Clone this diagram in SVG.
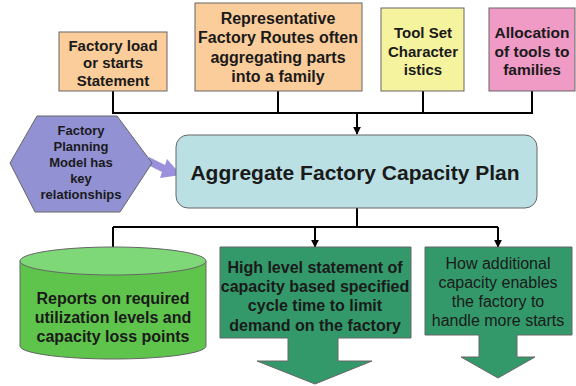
<svg xmlns="http://www.w3.org/2000/svg" width="576" height="386" viewBox="0 0 576 386">
  <defs>
    <marker id="arr" viewBox="0 0 10 10" refX="9" refY="5" markerWidth="4" markerHeight="4" orient="auto" markerUnits="strokeWidth">
      <path d="M0,0 L10,5 L0,10 z" fill="#000"/>
    </marker>
  </defs>
  <style>
    .box { stroke: #666; stroke-width: 1; }
    .t { font-family: "Liberation Sans", Arial, sans-serif; fill: #1a1a1a; text-anchor: middle; dominant-baseline: central; }
    .b { font-weight: bold; }
    .wire { fill: none; stroke: #000; stroke-width: 2; }
  </style>
  <rect width="576" height="386" fill="#fff"/>

  <!-- connectors -->
  <g id="connectors">
    <path class="wire" d="M113,91 V113 H532 V91 M278,91 V113 M423,91 V113"/>
    <path class="wire" d="M357,113 V134" marker-end="url(#arr)"/>
    <path class="wire" d="M357,208 V227 M113,227 H498"/>
    <path class="wire" d="M113,227 V273" marker-end="url(#arr)"/>
    <path class="wire" d="M315,227 V247" marker-end="url(#arr)"/>
    <path class="wire" d="M498,227 V247" marker-end="url(#arr)"/>
    <!-- fat purple arrow from hexagon into the plan -->
    <path d="M149,157 L165,165 L167,159 L181,175 L160,178 L162,172 L146,164 z" fill="#9b90dc"/>
  </g>

  <g id="factory-load">
    <rect class="box" x="59" y="32" width="108" height="59" fill="#fbcd9a"/>
    <text class="t b" font-size="15"><tspan x="113" y="45">Factory load</tspan><tspan x="113" y="62">or starts</tspan><tspan x="113" y="80">Statement</tspan></text>
  </g>

  <g id="routes">
    <rect class="box" x="195" y="3" width="167" height="88" fill="#fbcd9a"/>
    <text class="t b" font-size="16"><tspan x="278" y="18">Representative</tspan><tspan x="278" y="37">Factory Routes often</tspan><tspan x="278" y="57">aggregating parts</tspan><tspan x="278" y="76">into a family</tspan></text>
  </g>

  <g id="toolset">
    <rect class="box" x="381" y="8" width="83" height="83" fill="#f6f39e"/>
    <text class="t b" font-size="15"><tspan x="423" y="32">Tool Set</tspan><tspan x="423" y="51">Character</tspan><tspan x="423" y="69">istics</tspan></text>
  </g>

  <g id="allocation">
    <rect class="box" x="489" y="8" width="86" height="83" fill="#f09ac6"/>
    <text class="t b" font-size="15.5"><tspan x="532" y="32">Allocation</tspan><tspan x="532" y="51">of tools to</tspan><tspan x="532" y="69">families</tspan></text>
  </g>

  <g id="planning-model">
    <polygon class="box" points="37,116 117,116 152,163 120,212 35,212 10,163" fill="#9191d4"/>
    <text class="t b" font-size="13"><tspan x="81" y="130">Factory</tspan><tspan x="81" y="146">Planning</tspan><tspan x="81" y="162">Model has</tspan><tspan x="81" y="178">key</tspan><tspan x="81" y="194">relationships</tspan></text>
  </g>

  <g id="capacity-plan">
    <rect class="box" x="176" y="135" width="361" height="73" rx="12" fill="#bae0e4"/>
    <text class="t b" font-size="21" x="355" y="172">Aggregate Factory Capacity Plan</text>
  </g>

  <g id="reports">
    <path class="box" d="M20,261 V346 A93,13 0 0 0 206,346 V261" fill="#5fc44b"/>
    <ellipse class="box" cx="113" cy="261" rx="93" ry="14" fill="#7fd877"/>
    <text class="t b" font-size="16"><tspan x="113" y="298">Reports on required</tspan><tspan x="113" y="317">utilization levels and</tspan><tspan x="113" y="336">capacity loss points</tspan></text>
  </g>

  <g id="high-level">
    <path class="box" d="M220,247 H411 V338 H338 V361 H372 L315,384 L257,361 H288 V338 H220 z" fill="#33996a"/>
    <text class="t b" font-size="16"><tspan x="315" y="267">High level statement of</tspan><tspan x="315" y="286">capacity based specified</tspan><tspan x="315" y="305">cycle time to limit</tspan><tspan x="315" y="325">demand on the factory</tspan></text>
  </g>

  <g id="additional">
    <path class="box" d="M425,247 H572 V335 H517 V357 H535 L498,378 L461,357 H479 V335 H425 z" fill="#33996a"/>
    <text class="t" font-size="16"><tspan x="498" y="263">How additional</tspan><tspan x="498" y="282">capacity enables</tspan><tspan x="498" y="301">the factory to</tspan><tspan x="498" y="320">handle more starts</tspan></text>
  </g>
</svg>
